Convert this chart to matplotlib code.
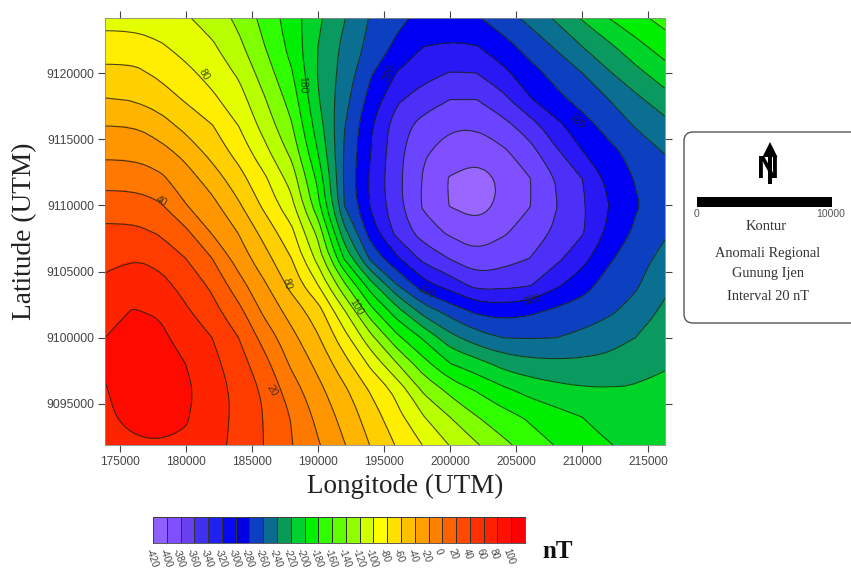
import numpy as np
import matplotlib
matplotlib.use("Agg")
import matplotlib.pyplot as plt
from matplotlib.colors import ListedColormap, BoundaryNorm
from matplotlib.path import Path
from matplotlib.patches import FancyBboxPatch, Rectangle, Polygon

plt.rcParams['font.family'] = ['Liberation Serif', 'DejaVu Sans']

# grid nodes (UTM)
easting = [173900, 176000, 178000, 180000, 182000, 184000, 186000, 188000, 190000, 192000, 194000,
           196000, 198000, 200000, 202000, 204000, 206000, 208000, 210000, 212000, 214000, 216250]
northing = [9124160, 9122000, 9120000, 9118000, 9116000, 9114000, 9112000, 9110000, 9108000,
            9106000, 9104000, 9102000, 9100000, 9098000, 9096000, 9094000, 9091900]
r00 = [-148,-148,-152,-158,-168,-185,-207,-230,-256,-279,-302,-315,-326,-330,-322,-309,-295,-277,-258,-240,-226,-213]
r01 = [-130,-130,-137,-147,-157,-175,-200,-227,-260,-285,-306,-325,-340,-342,-341,-328,-312,-298,-280,-264,-247,-230]
r02 = [-115,-115,-124,-135,-147,-163,-190,-218,-261,-288,-318,-341,-353,-361,-360,-345,-328,-313,-300,-282,-266,-249]
r03 = [-99,-101,-109,-122,-136,-151,-179,-208,-258,-293,-328,-357,-370,-380,-380,-366,-342,-326,-313,-300,-285,-268]
r04 = [-80,-80,-90,-106,-119,-140,-168,-198,-250,-299,-338,-371,-388,-398,-398,-387,-370,-346,-328,-313,-299,-287]
r05 = [-65,-65,-72,-86,-107,-127,-154,-185,-240,-302,-340,-374,-398,-408,-413,-404,-388,-364,-341,-326,-313,-299]
r06 = [-47,-47,-55,-71,-89,-112,-137,-168,-225,-303,-344,-375,-402,-422,-429,-417,-401,-379,-360,-335,-319,-312]
r07 = [-31,-31,-37,-59,-74,-97,-125,-154,-214,-300,-342,-374,-403,-421,-428,-416,-401,-381,-363,-340,-322,-310]
r08 = [-15,-15,-22,-36,-62,-81,-108,-135,-186,-274,-330,-367,-390,-404,-412,-403,-391,-377,-362,-336,-317,-303]
r09 = [-5,0,-6,-20,-40,-69,-93,-120,-167,-242,-305,-337,-366,-381,-394,-388,-380,-365,-347,-323,-309,-293]
r10 = [4,11,7,-7,-24,-52,-78,-106,-140,-196,-252,-300,-333,-349,-367,-366,-362,-344,-328,-312,-303,-284]
r11 = [13,21,18,3,-13,-34,-65,-88,-111,-158,-212,-252,-288,-308,-324,-328,-324,-316,-311,-303,-293,-276]
r12 = [20,25,25,12,0,-20,-48,-74,-98,-132,-174,-215,-243,-273,-291,-300,-301,-300,-295,-289,-280,-269]
r13 = [22,28,28,20,6,-11,-34,-63,-85,-112,-144,-179,-212,-239,-251,-266,-273,-275,-275,-273,-268,-262]
r14 = [19,27,27,24,10,-6,-24,-50,-74,-96,-122,-146,-183,-205,-221,-235,-246,-253,-257,-258,-258,-254]
r15 = [17,25,25,22,8,-4,-21,-41,-65,-87,-109,-134,-159,-180,-199,-212,-223,-232,-240,-248,-250,-248]
r16 = [14,17,19,17,6,-5,-21,-39,-58,-79,-101,-122,-141,-161,-178,-195,-209,-221,-230,-239,-245,-245]
anomaly = [r00, r01, r02, r03, r04, r05, r06, r07, r08, r09, r10, r11, r12, r13, r14, r15, r16]

contour_levels = list(range(-420, 21, 20))
fill_levels = [-500] + contour_levels + [100]
map_colors = ['#9966ff', '#8050ff', '#6a44ff', '#4c30f8', '#2a18f4', '#0000f5', '#0c40c0', '#0a6f90',
              '#0a9a60', '#00d428', '#00ee00', '#30ff00', '#80ff00', '#b8ff00', '#e4ff00', '#ffee00',
              '#ffd000', '#ffb400', '#ff9600', '#ff7800', '#ff5a00', '#ff3c00', '#ff2400', '#ff0a00']

x_ticks = [175000, 180000, 185000, 190000, 195000, 200000, 205000, 210000, 215000]
y_ticks = [9095000, 9100000, 9105000, 9110000, 9115000, 9120000]

# contour annotations: text, easting, northing, rotation
line_labels = [("80", 181400, 9119900, -60), ("180", 188800, 9119150, -88), ("320", 195450, 9120000, 65),
               ("320", 209600, 9116400, -45), ("40", 178150, 9110300, -30), ("80", 187650, 9104100, -75),
               ("100", 192900, 9102300, -60), ("20", 186500, 9096000, -60), ("320", 206200, 9102900, 15),
               ("320", 198200, 9103500, -25)]

cbar_edges = list(range(-420, 121, 20))
cbar_tick_values = list(range(-420, 101, 20))
cbar_colors = ['#9060ff', '#8050ff', '#6a40f0', '#4030f0', '#2020f0', '#0808f0', '#0000e0', '#0c40c0', '#0a6a90',
               '#0a9a58', '#00d030', '#00f000', '#30ff00', '#60ff00', '#90ff00', '#d0ff00', '#ffff00', '#ffe000',
               '#ffc000', '#ffa000', '#ff8000', '#ff6000', '#ff4800', '#ff3000', '#ff2000', '#ff1000', '#ff0000']

W, H = 851, 572
fig = plt.figure(figsize=(W / 100, H / 100), dpi=100, facecolor='white')

def box(l, t, r, b):
    return [l / W, 1 - b / H, (r - l) / W, (b - t) / H]

x0, x1 = min(easting), max(easting)
y0, y1 = min(northing), max(northing)

def on_edge(p):
    return abs(p[0] - x0) < 1 or abs(p[0] - x1) < 1 or abs(p[1] - y0) < 1 or abs(p[1] - y1) < 1

def round_ring(v, closed):
    """Curved drawing of one contour outline: the library's own vertices act as
    quadratic control points, vertices on the map frame stay sharp."""
    n = len(v)
    if n < 3:
        return [tuple(p) for p in v], [Path.MOVETO] + [Path.LINETO] * (n - 1)
    if closed:
        start = (v[-1] + v[0]) / 2
        verts, codes = [tuple(start)], [Path.MOVETO]
        for i in range(n):
            p, q = v[i], v[(i + 1) % n]
            if on_edge(p):
                verts.append(tuple(p)); codes.append(Path.LINETO)
                verts.append(tuple((p + q) / 2)); codes.append(Path.LINETO)
            else:
                verts += [tuple(p), tuple((p + q) / 2)]; codes += [Path.CURVE3, Path.CURVE3]
        verts.append(verts[0]); codes.append(Path.CLOSEPOLY)
        return verts, codes
    verts, codes = [tuple(v[0])], [Path.MOVETO]
    for i in range(1, n - 1):
        nxt = v[i + 1] if i == n - 2 else (v[i] + v[i + 1]) / 2
        verts += [tuple(v[i]), tuple(nxt)]; codes += [Path.CURVE3, Path.CURVE3]
    return verts, codes

def rounded(contour_set):
    out = []
    for path in contour_set.get_paths():
        if len(path.vertices) == 0:
            out.append(path)
            continue
        codes = path.codes
        if codes is None:
            codes = np.full(len(path.vertices), Path.LINETO); codes[0] = Path.MOVETO
        starts = list(np.where(codes == Path.MOVETO)[0]) + [len(codes)]
        V, C = [], []
        for a, b in zip(starts[:-1], starts[1:]):
            seg = path.vertices[a:b]
            seg_closed = codes[b - 1] == Path.CLOSEPOLY or np.allclose(seg[0], seg[-1])
            if seg_closed:
                seg = seg[:-1]
            v, c = round_ring(seg, seg_closed)
            V += v; C += c
        out.append(Path(np.array(V), C))
    contour_set.set_paths(out)

ax = fig.add_axes(box(105, 18, 665, 445))
X, Y = np.meshgrid(easting, northing)
Z = np.array(anomaly, dtype=float)
cf = ax.contourf(X, Y, Z, levels=fill_levels, cmap=ListedColormap(map_colors),
                 norm=BoundaryNorm(fill_levels, len(map_colors)))
rounded(cf)
cl = ax.contour(X, Y, Z, levels=contour_levels, colors='#1c2410', linewidths=0.8, alpha=0.8,
                linestyles='solid')
rounded(cl)
ax.set_xlim(173900, 216250)
ax.set_ylim(9091900, 9124160)
ax.set_xticks(x_ticks)
ax.set_xticklabels([str(v) for v in x_ticks], family='Liberation Sans', fontsize=8.6, color='#444444')
ax.set_yticks(y_ticks)
ax.set_yticklabels([str(v) for v in y_ticks], family='Liberation Sans', fontsize=8.8, color='#444444')
ax.tick_params(top=True, right=True, length=5, width=0.8, color='#444444', pad=3)
ax.tick_params(axis='y', pad=2.5)
for s in ax.spines.values():
    s.set_linewidth(0.6)
    s.set_color('#888888')
for txt, ex, ny, rot in line_labels:
    ax.text(ex, ny, txt, fontsize=7.5, family='Liberation Sans', color='#222222', rotation=rot,
            ha='center', va='center', alpha=0.8)

# overlay in pixel units for outer texts and legend box
ov = fig.add_axes([0, 0, 1, 1], zorder=5)
ov.set_xlim(0, W)
ov.set_ylim(H, 0)
ov.axis('off')
ov.text(405, 486, "Longitode (UTM)", fontsize=19.5, color='#222222', ha='center', va='center')
ov.text(25, 231, "Latitude (UTM)", fontsize=19.7, color='#222222', rotation=90, ha='center', va='center')

# colour bar
cax = fig.add_axes(box(153, 517, 525, 543))
cax.pcolormesh(cbar_edges, [0, 1], np.array(cbar_edges[:-1], dtype=float).reshape(1, -1),
               cmap=ListedColormap(cbar_colors), norm=BoundaryNorm(cbar_edges, len(cbar_colors)),
               edgecolors='#303030', linewidth=0.5)
cax.set_xlim(cbar_edges[0], cbar_edges[-1])
cax.set_yticks([])
cax.set_xticks(cbar_tick_values)
cax.set_xticklabels([str(v) for v in cbar_tick_values], rotation=-70, fontsize=7, ha='left', va='top',
                    rotation_mode='anchor', family='Liberation Sans', color='#444444')
cax.tick_params(axis='x', length=0, pad=3)
for s in cax.spines.values():
    s.set_linewidth(0.6)
    s.set_color('#404040')
ov.text(558, 551, "nT", fontsize=18, fontweight='bold', color='#111111', ha='center', va='center')

# legend box
ov.add_patch(FancyBboxPatch((684, 132), 220, 191, boxstyle="round,pad=0,rounding_size=9", fc='white',
                            ec='#555555', lw=1.0))
ov.add_patch(Polygon([(770, 142), (762.5, 157), (768, 157), (768, 184), (772, 184), (772, 157), (777.5, 157)],
                     closed=True, fc='black', ec='none'))
ov.text(768, 170, "N", fontsize=22, fontweight='bold', family='Liberation Sans', color='black', ha='center', va='center')
ov.add_patch(Rectangle((697, 197), 135, 10, fc='black', ec='none'))
ov.text(697, 214, "0", fontsize=7.5, family='Liberation Sans', color='#555555', ha='center', va='center')
ov.text(831, 214, "10000", fontsize=7.5, family='Liberation Sans', color='#555555', ha='center', va='center')
ov.text(766, 227, "Kontur", fontsize=10.5, color='#333333', ha='center', va='center')
ov.text(768, 254, "Anomali Regional", fontsize=10.4, color='#333333', ha='center', va='center')
ov.text(768, 274, "Gunung Ijen", fontsize=10.4, color='#333333', ha='center', va='center')
ov.text(768, 297, "Interval 20 nT", fontsize=10.4, color='#333333', ha='center', va='center')

fig.savefig('out.png', dpi=100)
